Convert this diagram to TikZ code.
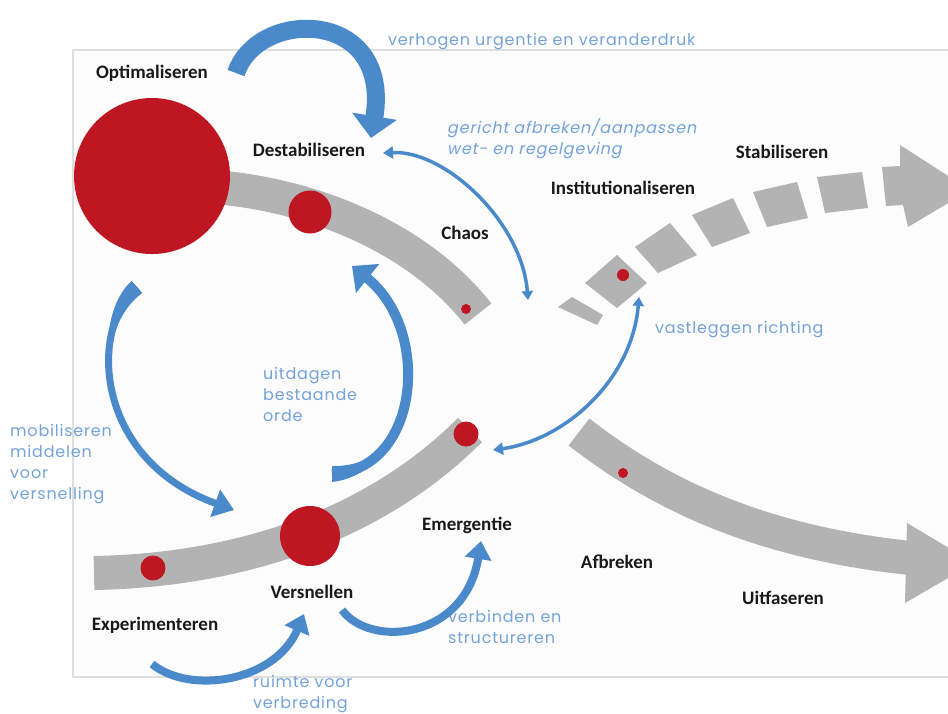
\documentclass[tikz,border=0pt]{standalone}
\usepackage{fontspec}
\setmainfont{Carlito}
\newfontfamily\bluefont[LetterSpace=5]{Poppins}
\newfontfamily\blueslant[FakeSlant=0.2,LetterSpace=5]{Poppins}
\usetikzlibrary{arrows.meta}
\definecolor{bandgray}{RGB}{179,179,179}
\definecolor{dotred}{RGB}{190,22,34}
\definecolor{arrowblue}{RGB}{74,138,203}
\definecolor{textblue}{RGB}{115,163,216}
\definecolor{framegray}{RGB}{222,222,222}
\definecolor{framefill}{RGB}{252,252,252}
\tikzset{
  lbl/.style={font=\bfseries\fontsize{19}{22}\selectfont, text=black!90, inner sep=0pt},
  bl/.style={font=\bluefont\fontsize{16}{21}\selectfont, text=textblue, align=left, inner sep=0pt},
  bls/.style={font=\blueslant\fontsize{16}{21}\selectfont, text=textblue, align=left, inner sep=0pt},
  band/.style={draw=bandgray, line width=34pt},
  blockshape/.style={fill=bandgray},
  reddot/.style={circle, fill=dotred, inner sep=0pt},
  barrow/.style={draw=arrowblue},
  taper/.style={fill=arrowblue},
}
\begin{document}
\begin{tikzpicture}[x=1pt,y=-1pt]
\useasboundingbox (0,0) rectangle (948,713);
% frame
\draw[framegray, fill=framefill, line width=1.2pt] (73,50) rectangle (960,677);

% upper-left band
\coordinate (ub1) at (225,188);
\coordinate (ub2) at (478,314);
\draw[band] (ub1) .. controls (320,198) and (420,240) .. (ub2);

% lower-left band
\coordinate (lb1) at (94,573);
\coordinate (lb2) at (470,430);
\draw[band] (lb1) .. controls (250,570) and (380,520) .. (lb2);

% lower-right band with arrow
\coordinate (rb1) at (579,432);
\coordinate (rb2) at (910,558);
\draw[band] (rb1) .. controls (660,495) and (760,542) .. (rb2);
\fill[bandgray] (907,523) -- (974,563) -- (905,603) -- cycle;

% dashed upper-right band
\fill[blockshape] (558,307) -- (572,297) -- (603,315) -- (597,325) -- cycle;
\fill[blockshape] (585,283) -- (617,255) -- (647,283) -- (617,308) -- cycle;
\fill[blockshape] (635,247) -- (670,223) -- (697,255) -- (658,273) -- cycle;
\fill[blockshape] (692,215) -- (733,198) -- (750,233) -- (712,247) -- cycle;
\fill[blockshape] (753,192) -- (797,182) -- (808,218) -- (767,227) -- cycle;
\fill[blockshape] (817,177) -- (862,172) -- (868,208) -- (825,213) -- cycle;
\fill[blockshape] (882,167) -- (900,166) -- (900,145) -- (970,190) -- (908,227) -- (903,205) -- (886,206) -- cycle;

% red dots
\node[reddot, minimum size=156pt] (bigc) at (152,176) {};
\node[reddot, minimum size=43pt] (c2) at (310,212) {};
\node[reddot, minimum size=10pt] (c3) at (466,309) {};
\node[reddot, minimum size=60pt] (c4) at (310,536) {};
\node[reddot, minimum size=25pt] (c5) at (153,568) {};
\node[reddot, minimum size=25pt] (c6) at (466,434) {};
\node[reddot, minimum size=10pt] (c7) at (623,473) {};
\node[reddot, minimum size=12pt] (c8) at (623,275) {};

% black labels
\node[lbl] (opt) at (152,73) {Optimaliseren};
\node[lbl] (dest) at (309,150) {Destabiliseren};
\node[lbl] (chaos) at (465,233) {Chaos};
\node[lbl] (inst) at (623,188) {Institutionaliseren};
\node[lbl] (stab) at (782,152) {Stabiliseren};
\node[lbl] (vers) at (312,592) {Versnellen};
\node[lbl] (exp) at (155,625) {Experimenteren};
\node[lbl] (emer) at (467,525) {Emergentie};
\node[lbl] (afbr) at (617,562) {Afbreken};
\node[lbl] (uitf) at (783,598) {Uitfaseren};

% blue labels
\node[bl, anchor=west] (t1) at (388,42) {verhogen urgentie en veranderdruk};
\node[bls, anchor=north west] (t2) at (447,118) {gericht afbreken/aanpassen\\wet- en regelgeving};
\node[bl, anchor=west] (t3) at (655,330) {vastleggen richting};
\node[bl, anchor=north west] (t4) at (263,367) {uitdagen\\bestaande\\orde};
\node[bl, anchor=north west] (t5) at (10,424) {mobiliseren\\middelen\\voor\\versnelling};
\node[bl, anchor=north west] (t6) at (448,610) {verbinden en\\structureren};
\node[bl, anchor=north west] (t7) at (253,675) {ruimte voor\\verbreding};

% blue arrows
\coordinate (a1) at (236,73);
\coordinate (a2) at (371,138);
\draw[barrow, line width=18pt, -{Triangle[width=44pt,length=22pt]}] (a1) .. controls (258,8) and (392,8) .. (a2);

\coordinate (b1) at (383,153);
\coordinate (b2) at (528,300);
\draw[barrow, line width=3.5pt, {Triangle[width=12pt,length=10pt]}-{Triangle[width=11pt,length=9pt]}] (b1) .. controls (445,150) and (522,222) .. (b2);

\coordinate (cc1) at (493,450);
\coordinate (cc2) at (639,297);
\draw[barrow, line width=3.5pt, {Triangle[width=12pt,length=10pt]}-{Triangle[width=11pt,length=9pt]}] (cc1) .. controls (565,440) and (632,380) .. (cc2);

% uitdagen bestaande orde (thick tail tapering)
\coordinate (d1) at (332,474);
\coordinate (d2) at (352,266);
\draw[barrow, line width=10pt, -{Triangle[width=36pt,length=20pt]}] (d1) .. controls (420,470) and (432,330) .. (d2);
\fill[taper] (332,482) .. controls (362.8,478.6) and (387,455.7) .. (395.8,428.9)
   .. controls (381.6,453.3) and (362.8,466.6) .. (332,466) -- cycle;

% mobiliseren middelen (thick tail tapering)
\coordinate (e1) at (137,287);
\coordinate (e2) at (234,510);
\draw[barrow, line width=7pt, -{Triangle[width=28pt,length=20pt]}] (e1) .. controls (88,330) and (95,460) .. (e2);
\fill[taper] (131.7,281) .. controls (114.5,296) and (105.5,327) .. (109.4,357)
   .. controls (113.5,327.8) and (124,306.5) .. (142.3,293) -- cycle;

\coordinate (f1) at (152,664);
\coordinate (f2) at (304,614);
\draw[barrow, line width=8pt, -{Triangle[width=26pt,length=18pt]}] (f1) .. controls (190,695) and (275,682) .. (f2);

\coordinate (g1) at (342,610);
\coordinate (g2) at (481,541);
\draw[barrow, line width=8pt, -{Triangle[width=26pt,length=18pt]}] (g1) .. controls (370,648) and (465,640) .. (g2);
\end{tikzpicture}
\end{document}
